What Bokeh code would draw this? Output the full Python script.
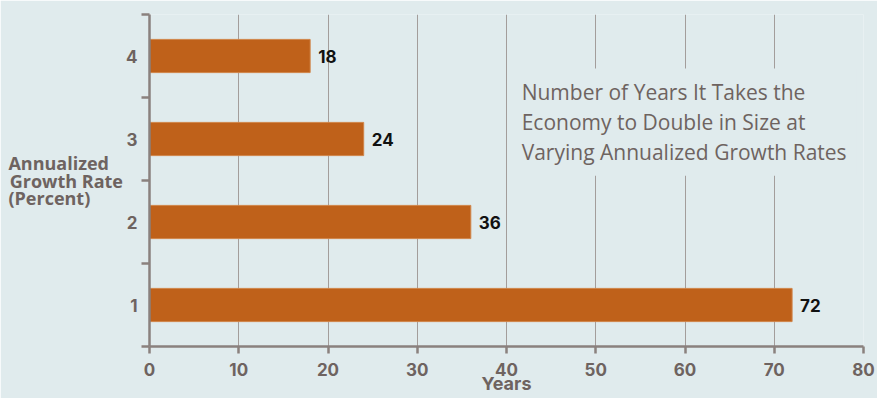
from bokeh.plotting import figure
from bokeh.models import Range1d, FixedTicker, Label, ColumnDataSource
from bokeh.core.properties import value
from bokeh.embed import file_html
from bokeh.resources import INLINE

# data
rates = [1, 2, 3, 4]
years = [72, 36, 24, 18]
year_labels = [str(v) for v in years]
x_ticks = [0, 10, 20, 30, 40, 50, 60, 70, 80]
y_title_lines = ["Annualized", "Growth Rate", "(Percent)"]
x_title = "Years"
note = "Number of Years It Takes the\nEconomy to Double in Size at\nVarying Annualized Growth Rates"

BG = "#e0ebed"
AXIS = "#8a817e"
TXT = "#6e6360"
BAR = "#bf611a"
FONT = "Open Sans"
BFONT = "Inter"
NB = "\u00a0"

src = ColumnDataSource(dict(rate=rates, years=years, lab=year_labels))

p = figure(width=877, height=398, output_backend="svg", toolbar_location=None,
           x_range=Range1d(0, 80), y_range=Range1d(0.5, 4.5),
           min_border_left=149, min_border_right=14, min_border_top=14, min_border_bottom=52)
p.background_fill_color = BG
p.border_fill_color = BG
p.outline_line_color = None

p.ygrid.grid_line_color = None
p.xgrid.grid_line_color = "#a39d9b"
p.xgrid.grid_line_width = 1
p.xgrid.ticker = FixedTicker(ticks=x_ticks)

p.hbar(y="rate", right="years", left=0, height=0.4, source=src,
       fill_color=BAR, line_color="#d08448", line_width=1)
p.text(x="years", y="rate", text="lab", source=src, x_offset=8,
       text_baseline="middle", text_align="left", text_color="#111111",
       text_font=value(BFONT), text_font_style="bold", text_font_size="17px")

# x axis
xa = p.xaxis[0]
xa.ticker = FixedTicker(ticks=x_ticks)
xa.axis_line_color = AXIS
xa.axis_line_width = 2.5
xa.major_tick_line_color = AXIS
xa.major_tick_line_width = 2.5
xa.major_tick_out = 7
xa.major_tick_in = 0
xa.minor_tick_line_color = None
xa.major_label_text_font = BFONT
xa.major_label_text_font_style = "bold"
xa.major_label_text_font_size = "17px"
xa.major_label_text_color = TXT
xa.major_label_standoff = 9
xa.axis_label = x_title
xa.axis_label_text_font = BFONT
xa.axis_label_text_font_style = "bold"
xa.axis_label_text_font_size = "18px"
xa.axis_label_text_color = TXT
xa.axis_label_standoff = -6

# y axis
ya = p.yaxis[0]
ya.ticker = FixedTicker(ticks=rates, minor_ticks=[0.5, 1.5, 2.5, 3.5, 4.5])
ya.axis_line_color = AXIS
ya.axis_line_width = 2.5
ya.major_tick_out = 0
ya.major_tick_in = 0
ya.major_tick_line_color = None
ya.minor_tick_line_color = AXIS
ya.minor_tick_line_width = 2.5
ya.minor_tick_out = 8
ya.minor_tick_in = 0
ya.major_label_text_font = BFONT
ya.major_label_text_font_style = "bold"
ya.major_label_text_font_size = "17px"
ya.major_label_text_color = TXT
ya.major_label_standoff = 4
# pad shorter lines so the centred block reads left-aligned
ya.axis_label = "\n".join([y_title_lines[0] + NB * 3, y_title_lines[1], y_title_lines[2] + NB * 7])
ya.axis_label_orientation = "horizontal"
ya.axis_label_text_font = FONT
ya.axis_label_text_font_style = "bold"
ya.axis_label_text_font_size = "18px"
ya.axis_label_text_color = TXT
ya.axis_label_text_line_height = 0.74
ya.axis_label_standoff = 0

p.add_layout(Label(x=40.58, y=3.85, text=note, text_align="left", text_baseline="top",
                   text_font=FONT, text_font_size="21px", text_color=TXT,
                   text_line_height=1.06, background_fill_color=BG, padding=10))

html = file_html(p, INLINE)
html = html.replace("<body>", '<body style="background-color:%s;">' % BG, 1)
open("out.html", "w").write(html)
